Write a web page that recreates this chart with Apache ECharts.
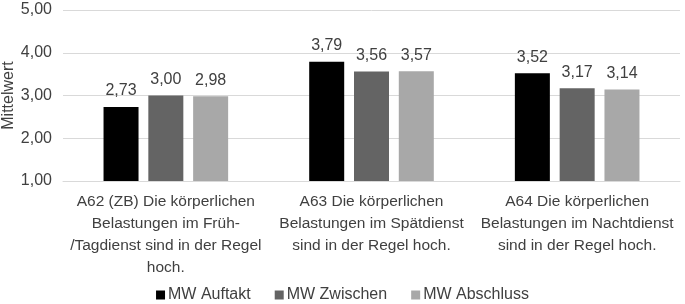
<!DOCTYPE html>
<html><head><meta charset="utf-8">
<script src="https://cdn.jsdelivr.net/npm/echarts@6/dist/echarts.min.js"></script>
<style>html,body{margin:0;padding:0;background:#fff}#c{width:685px;height:304px}</style>
</head><body><div id="c"></div>
<script>
const categories = [
  "A62 (ZB) Die körperlichen\nBelastungen im Früh-\n/Tagdienst sind in der Regel\nhoch.",
  "A63 Die körperlichen\nBelastungen im Spätdienst\nsind in der Regel hoch.",
  "A64 Die körperlichen\nBelastungen im Nachtdienst\nsind in der Regel hoch."
];
const seriesNames = ["MW Auftakt", "MW Zwischen", "MW Abschluss"];
const auftakt = [2.73, 3.79, 3.52];
const zwischen = [3.00, 3.56, 3.17];
const abschluss = [2.98, 3.57, 3.14];
const colors = ["#000000", "#646464", "#a8a8a8"];
const fmt = v => v.toFixed(2).replace('.', ',');
const font = "Liberation Sans, Arial, sans-serif";
const chart = echarts.init(document.getElementById('c'));
const mk = (name, data, color) => ({
  name, type: 'bar', data, barWidth: 35, barGap: '28%',
  itemStyle: { color },
  label: { show: true, position: 'top', distance: 8, formatter: p => fmt(p.value),
           color: '#404040', fontSize: 16, fontFamily: font }
});
chart.setOption({
  animation: false,
  textStyle: { fontFamily: font },
  grid: { left: 63, right: 5, top: 10, bottom: 123, containLabel: false, outerBoundsMode: 'none' },
  legend: {
    bottom: -4, left: 'center', itemWidth: 9, itemHeight: 9, itemGap: 24, icon: 'rect',
    textStyle: { color: '#404040', fontSize: 16, fontFamily: font, padding: [0, 0, 0, -2] },
    data: seriesNames
  },
  xAxis: {
    type: 'category', data: categories,
    axisLine: { lineStyle: { color: '#d9d9d9' } },
    axisTick: { show: false },
    axisLabel: { color: '#404040', fontSize: 15.5, lineHeight: 22, margin: 10, interval: 0, fontFamily: font }
  },
  yAxis: {
    type: 'value', min: 1, max: 5, interval: 1,
    name: 'Mittelwert', nameLocation: 'middle', nameRotate: 90, nameGap: 46, nameMoveOverlap: false,
    nameTextStyle: { color: '#404040', fontSize: 16, fontFamily: font },
    axisLine: { show: false }, axisTick: { show: false },
    axisLabel: { color: '#404040', fontSize: 16, formatter: v => fmt(v), margin: 11, fontFamily: font },
    splitLine: { lineStyle: { color: '#d9d9d9' } }
  },
  series: [mk(seriesNames[0], auftakt, colors[0]), mk(seriesNames[1], zwischen, colors[1]), mk(seriesNames[2], abschluss, colors[2])]
});
</script></body></html>
